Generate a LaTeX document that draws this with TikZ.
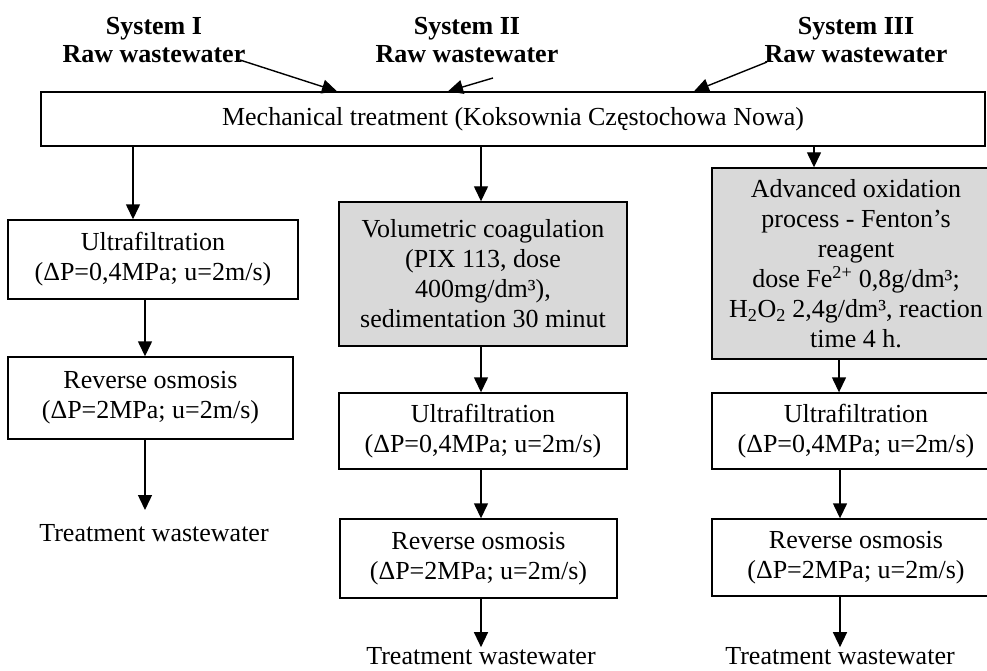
\documentclass[tikz,border=0pt]{standalone}
\usepackage{fontspec}
\setmainfont{Liberation Serif}
\usetikzlibrary{arrows.meta}
\begin{document}
\begin{tikzpicture}[x=1pt,y=-1pt,
  box/.style={draw=black,line width=1.4pt,inner sep=0pt,align=center,
    font=\fontsize{26}{30}\selectfont},
  graybox/.style={box,fill=black!15},
  title/.style={inner sep=0pt,align=center,font=\fontsize{26}{28}\selectfont\bfseries},
  plain/.style={inner sep=0pt,font=\fontsize{26}{30}\selectfont},
  arr/.style={line width=1.4pt,-{Triangle[width=14pt,length=15pt]}}]
\clip (0,0) rectangle (987,671);
\fill[white] (0,0) rectangle (987,671);
% titles
\node[title] (t1) at (154,40) {System I\\Raw wastewater};
\node[title] (t2) at (467,40) {System II\\Raw wastewater};
\node[title] (t3) at (856,40) {System III\\Raw wastewater};
\coordinate (t1e) at (240,60);
\coordinate (t2e) at (493,78);
\coordinate (t3e) at (767,62);
% mechanical
\node[box,minimum width=944pt,minimum height=54pt] (mech) at (513,119)
  {Mechanical treatment (Koksownia Częstochowa Nowa)};
% system I
\node[box,minimum width=290pt,minimum height=79pt] (uf1) at (153,259.5)
  {Ultrafiltration\\(ΔP=0,4MPa; u=2m/s)};
\node[box,minimum width=285pt,minimum height=82pt] (ro1) at (150.5,398)
  {Reverse osmosis\\(ΔP=2MPa; u=2m/s)};
\node[plain] (out1) at (154,533) {Treatment wastewater};
% system II
\node[graybox,minimum width=288pt,minimum height=144pt] (coag) at (483,274)
  {Volumetric coagulation\\(PIX 113, dose\\400mg/dm³),\\sedimentation 30 minut};
\node[box,minimum width=288pt,minimum height=76pt] (uf2) at (483,431)
  {Ultrafiltration\\(ΔP=0,4MPa; u=2m/s)};
\node[box,minimum width=277pt,minimum height=79pt] (ro2) at (478.5,558.5)
  {Reverse osmosis\\(ΔP=2MPa; u=2m/s)};
\node[plain] (out2) at (481,656) {Treatment wastewater};
% system III
\node[graybox,minimum width=288pt,minimum height=191pt] (fent) at (856,263.5)
  {Advanced oxidation\\process - Fenton’s\\reagent\\dose Fe\textsuperscript{2+} 0,8g/dm³;\\H\textsubscript{2}O\textsubscript{2} 2,4g/dm³, reaction\\time 4 h.};
\node[box,minimum width=288pt,minimum height=76pt] (uf3) at (856,431)
  {Ultrafiltration\\(ΔP=0,4MPa; u=2m/s)};
\node[box,minimum width=288pt,minimum height=77pt] (ro3) at (856,557.5)
  {Reverse osmosis\\(ΔP=2MPa; u=2m/s)};
\node[plain] (out3) at (840,656) {Treatment wastewater};
% inflow arrows
\draw[arr] (t1e) -- (mech.north -| 337,0);
\draw[arr] (t2e) -- (mech.north -| 448,0);
\draw[arr] (t3e) -- (mech.north -| 694,0);
% system I arrows
\draw[arr] (mech.south -| 133,0) -- (uf1.north -| 133,0);
\draw[arr] (uf1.south -| 145,0) -- (ro1.north -| 145,0);
\draw[arr] (ro1.south -| 145,0) -- (145,510);
% system II arrows
\draw[arr] (mech.south -| 481,0) -- (coag.north -| 481,0);
\draw[arr] (coag.south -| 481,0) -- (uf2.north -| 481,0);
\draw[arr] (uf2.south -| 481,0) -- (ro2.north -| 481,0);
\draw[arr] (ro2.south -| 481,0) -- (out2.north);
% system III arrows
\draw[arr] (mech.south -| 814,0) -- (fent.north -| 814,0);
\draw[arr] (fent.south -| 839,0) -- (uf3.north -| 839,0);
\draw[arr] (uf3.south -| 840,0) -- (ro3.north -| 840,0);
\draw[arr] (ro3.south -| 840,0) -- (out3.north);
\end{tikzpicture}
\end{document}
